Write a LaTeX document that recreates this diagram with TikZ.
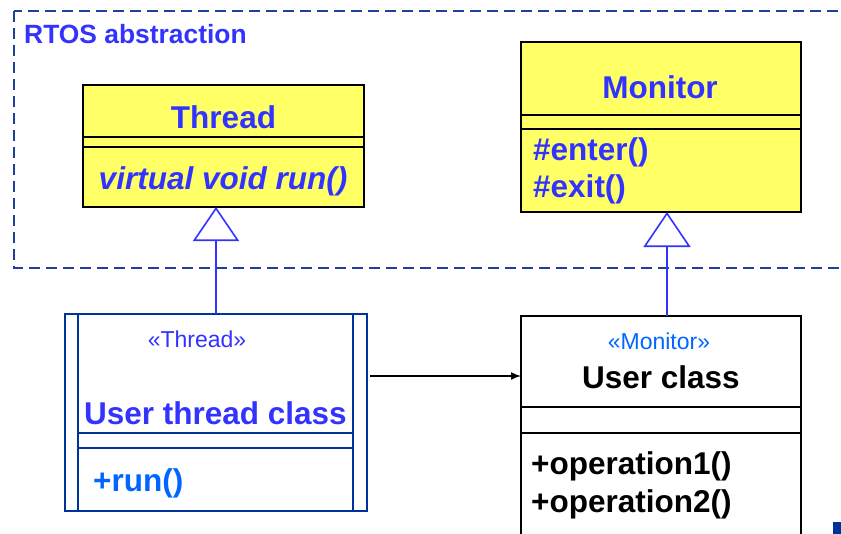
\documentclass[tikz,border=0pt]{standalone}
\usepackage{fontspec}
\setmainfont{Liberation Sans}
\usepackage{tikz}
\usetikzlibrary{arrows.meta,positioning,calc}
\definecolor{umlblue}{RGB}{51,51,255}
\definecolor{litblue}{RGB}{0,102,255}
\definecolor{navyblue}{RGB}{0,51,153}
\definecolor{framecol}{RGB}{31,64,153}
\definecolor{umlyellow}{RGB}{255,255,102}
\newcommand{\bigtxt}{\fontsize{31.5}{36}\selectfont}
\newcommand{\stereotxt}{\fontsize{23}{27}\selectfont}

\begin{document}
\begin{tikzpicture}[x=1pt, y=-1pt,
    classbox/.style={draw, line width=1.7pt, inner sep=0pt, outer sep=0pt},
    sepline/.style={line width=1.7pt},
    cname/.style={font=\bigtxt\bfseries, text=umlblue, inner sep=0pt, anchor=base},
    oper/.style={font=\bigtxt\bfseries, text=umlblue, inner sep=0pt, anchor=base west},
    stereo/.style={font=\stereotxt, inner sep=0pt, anchor=base},
    gen/.style={umlblue, line width=1.6pt,
      -{Triangle[open, length=34pt, width=46pt, line width=1.6pt]}},
    assoc/.style={black, line width=1.5pt, shorten <=3pt,
      -{Latex[length=10pt, width=8pt]}},
  ]
  \useasboundingbox (0,0) rectangle (841,533);
  \clip (0,0) rectangle (841,533);
  \fill[white] (0,0) rectangle (841,533);

  % Frame: RTOS abstraction
  \draw[framecol, line width=1.6pt, dash pattern=on 11pt off 6pt]
    (14,11) rectangle (900,268);
  \node[font=\fontsize{26.4}{30}\selectfont\bfseries, text=umlblue,
    inner sep=0pt, anchor=base west] (rtos) at (24,43) {RTOS abstraction};

  % Thread
  \node[classbox, fill=umlyellow, minimum width=281pt, minimum height=122pt]
    (thread) at (223.5,146) {};
  \draw[sepline] (thread.west |- 0,137) -- (thread.east |- 0,137);
  \draw[sepline] (thread.west |- 0,147) -- (thread.east |- 0,147);
  \node[cname] (threadname) at (223.5,128) {Thread};
  \node[cname, font=\bigtxt\bfseries\itshape] (threadrun) at (223,189)
    {virtual void run()};

  % Monitor
  \node[classbox, fill=umlyellow, minimum width=280pt, minimum height=170pt]
    (monitor) at (661,127) {};
  \draw[sepline] (monitor.west |- 0,115) -- (monitor.east |- 0,115);
  \draw[sepline] (monitor.west |- 0,129) -- (monitor.east |- 0,129);
  \node[cname] (monname) at (660,98) {Monitor};
  \node[oper] (enter) at (533,160) {\#enter()};
  \node[oper] (exit) at (533,197) {\#exit()};

  % User thread class (active)
  \node[draw=navyblue, line width=2.2pt, inner sep=0pt, outer sep=0pt,
    minimum width=302pt, minimum height=197pt] (uthread) at (216,412.5) {};
  \draw[navyblue, line width=1.7pt]
    ([xshift=13pt]uthread.north west) -- ([xshift=13pt]uthread.south west);
  \draw[navyblue, line width=1.7pt]
    ([xshift=-14pt]uthread.north east) -- ([xshift=-14pt]uthread.south east);
  \draw[navyblue, line width=1.7pt] (78,433) -- (353,433);
  \draw[navyblue, line width=1.7pt] (78,448) -- (353,448);
  \node[stereo, text=umlblue] (thrstereo) at (197,347) {«Thread»};
  \node[cname] (uthrname) at (215.5,424) {User thread class};
  \node[oper, text=litblue] (run) at (93,491) {+run()};

  % User class
  \node[classbox, minimum width=280pt, minimum height=244pt]
    (uclass) at (661,438) {};
  \draw[sepline] (uclass.west |- 0,407) -- (uclass.east |- 0,407);
  \draw[sepline] (uclass.west |- 0,433) -- (uclass.east |- 0,433);
  \node[stereo, text=litblue] (monstereo) at (659,349) {«Monitor»};
  \node[cname, text=black] (uclassname) at (661,388) {User class};
  \node[oper, text=black] (op1) at (531,474) {+operation1()};
  \node[oper, text=black] (op2) at (531,512) {+operation2()};

  % Generalisations
  \draw[gen] (uthread.north) -- (uthread.north |- thread.south);
  \draw[gen, -{Triangle[open, length=35pt, width=47pt, line width=1.6pt]}]
    ([xshift=6pt]uclass.north) -- ([xshift=6pt]uclass.north |- monitor.south);

  % Association
  \coordinate (assocy) at (0,376);
  \draw[assoc] (uthread.east |- assocy) -- (uclass.west |- assocy);

  \fill[navyblue] (833,522) rectangle (850,540);
\end{tikzpicture}
\end{document}
